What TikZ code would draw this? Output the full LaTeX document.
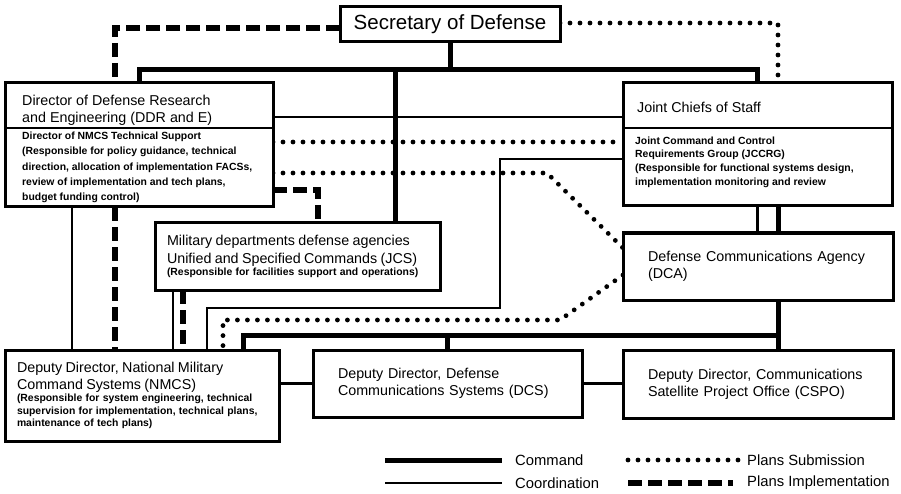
\documentclass[tikz,border=0pt]{standalone}
\usepackage{fontspec}
\setmainfont{Liberation Sans}
\usetikzlibrary{backgrounds}
\newcommand\DiagTitle{\fontsize{14.3}{17}\selectfont}
\newcommand\DiagSecFont{\fontsize{20.5}{24}\selectfont}
\newcommand\DiagSmallA{\fontsize{10.4}{15.2}\selectfont\bfseries}
\newcommand\DiagSmallB{\fontsize{10.4}{13.6}\selectfont\bfseries}
\newcommand\DiagLegend{\fontsize{14.8}{17}\selectfont}
\begin{document}
\begin{tikzpicture}[x=1pt,y=-1pt,
  box/.style={draw,line width=3pt,fill=white,inner sep=0pt,outer sep=0pt},
  txt/.style={anchor=west,align=left,inner sep=0pt},
  divider/.style={line width=1.8pt},
  cmd/.style={line width=5pt},
  crd/.style={line width=2.2pt},
  subm/.style={line width=4.8pt,line cap=round,dash pattern=on 0pt off 10pt},
  impl/.style={line width=5.5pt,dash pattern=on 14pt off 6pt},
  legend/.style={anchor=west,inner sep=0pt,font=\DiagLegend}]
\useasboundingbox (0,0) rectangle (901,494);

% ---------- boxes ----------
\node[box,anchor=north west,minimum width=220pt,minimum height=35pt,font=\DiagSecFont] (sec) at (340,7) {Secretary of Defense};

\node[box,anchor=north west,minimum width=268pt,minimum height=124pt] (ddr) at (5,83) {};
\node[txt,font=\DiagTitle] (ddrt) at (22,110) {Director of Defense Research\\and Engineering (DDR and E)};
\node[txt,font=\DiagSmallA] (ddrb) at (22,167.5) {Director of NMCS Technical Support\\(Responsible for policy guidance, technical\\direction, allocation of implementation FACSs,\\review of implementation and tech plans,\\budget funding control)};
\coordinate (ddrdiv) at (0,128);
\draw[divider] (ddr.west |- ddrdiv) -- (ddr.east |- ddrdiv);

\node[box,anchor=north west,minimum width=269pt,minimum height=123pt] (jcs) at (623,83) {};
\node[txt,font=\DiagTitle] (jcst) at (637,107) {Joint Chiefs of Staff};
\node[txt,font=\DiagSmallB] (jcsb) at (635,162) {Joint Command and Control\\Requirements Group (JCCRG)\\(Responsible for functional systems design,\\implementation monitoring and review};
\draw[divider] (jcs.west |- ddrdiv) -- (jcs.east |- ddrdiv);

\node[box,anchor=north west,minimum width=285pt,minimum height=67pt,text width=261pt,inner xsep=12pt,align=left] (mil) at (155,223)
 {\fontsize{10.4}{15}\selectfont\DiagTitle Military departments defense agencies\\[1pt]Unified and Specified Commands (JCS)\\[0pt]{\DiagSmallA (Responsible for facilities support and operations)}};

\node[box,anchor=north west,minimum width=270pt,minimum height=67pt,text width=220pt,inner xsep=25pt,align=left,font=\DiagTitle] (dca) at (623,233)
 {Defense Communications Agency\\(DCA)};

\node[box,anchor=north west,minimum width=274pt,minimum height=91pt,text width=250pt,inner xsep=12pt,align=left] (nmcs) at (5,350)
 {\DiagTitle Deputy Director, National Military\\Command Systems (NMCS)\\[-2pt]{\DiagSmallB (Responsible for system engineering, technical\\supervision for implementation, technical plans,\\maintenance of tech plans)}};

\node[box,anchor=north west,minimum width=269pt,minimum height=67pt,text width=219pt,inner xsep=25pt,align=left,font=\DiagTitle] (dcs) at (313,350)
 {Deputy Director, Defense\\Communications Systems (DCS)};

\node[box,anchor=north west,minimum width=270pt,minimum height=68pt,text width=220pt,inner xsep=25pt,align=left,font=\DiagTitle] (cspo) at (623,350)
 {Deputy Director, Communications\\Satellite Project Office (CSPO)};

% ---------- connectors ----------
\begin{scope}[on background layer]
% command
\coordinate (cbar) at (0,70);
\coordinate (m1) at (395,70);
\draw[cmd] (sec.south) -- (sec.south |- cbar);
\draw[cmd] (ddr.north) -- (ddr.north |- cbar) -- (jcs.north |- cbar) -- (jcs.north);
\draw[cmd] (m1) -- (m1 |- mil.north);
\coordinate (cb1) at (243,335);
\coordinate (cb2) at (778,335);
\draw[cmd] (jcs.south -| cb2) -- (dca.north -| cb2);
\draw[cmd] (dca.south -| cb2) -- (cspo.north -| cb2);
\draw[cmd] (nmcs.north -| cb1) -- (cb1) -- (cb2);
\draw[cmd] (dcs.north |- cb1) -- (dcs.north);
% coordination
\coordinate (c117) at (0,117);
\draw[crd] (ddr.east |- c117) -- (jcs.west |- c117);
\draw[crd] (jcs.south) -- (jcs.south |- dca.north);
\coordinate (xa) at (72,0);
\draw[crd] (ddr.south -| xa) -- (nmcs.north -| xa);
\coordinate (xb) at (173,0);
\draw[crd] (mil.south -| xb) -- (nmcs.north -| xb);
\coordinate (cc1) at (207,308);
\coordinate (cc2) at (500,159);
\draw[crd] (nmcs.north -| cc1) -- (cc1) -| (cc2) -- (jcs.west |- cc2);
\draw[crd] (dcs.west) -- (dcs.west -| nmcs.east);
\draw[crd] (dcs.east) -- (dcs.east -| cspo.west);
% plans implementation
\coordinate (d1) at (115,28);
\draw[impl] (sec.west |- d1) -- (d1) -- (d1 |- ddr.north);
\draw[impl] (d1 |- ddr.south) -- (d1 |- nmcs.north);
\coordinate (d2) at (318,190);
\draw[impl] (ddr.east |- d2) -- (d2) -- (d2 |- mil.north);
\coordinate (xc) at (183,0);
\draw[impl] (mil.south -| xc) -- (nmcs.north -| xc);
% plans submission
\coordinate (p1) at (778,23);
\draw[subm] (sec.east |- p1) -- (p1) -- (p1 |- jcs.north);
\coordinate (p2) at (0,142);
\draw[subm] (ddr.east |- p2) -- (jcs.west |- p2);
\coordinate (p3) at (547,173);
\coordinate (p4) at (0,248);
\draw[subm] (ddr.east |- p3) -- (p3) -- (dca.west |- p4);
\coordinate (p5) at (0,275);
\coordinate (p6) at (560,320);
\coordinate (p7) at (223,320);
\draw[subm] (dca.west |- p5) -- (p6) -- (p7) -- (p7 |- nmcs.north);
\end{scope}

% ---------- legend ----------
\node[legend] (lcmd) at (515,460) {Command};
\node[legend] (lcrd) at (515,483) {Coordination};
\node[legend] (lsub) at (747,460) {Plans Submission};
\node[legend] (limp) at (747,483) {Plans Implementation};
\coordinate (lc1) at (385,460);
\coordinate (lo1) at (385,483);
\coordinate (ls1) at (628,460);
\coordinate (li1) at (628,483);
\draw[cmd] (lc1) -- ([xshift=-13pt]lcmd.west);
\draw[crd] (lo1) -- ([xshift=-13pt]lcrd.west);
\draw[subm] (ls1) -- ([xshift=-8.5pt]lsub.west);
\draw[impl] (li1) -- ([xshift=-14pt]limp.west);
\end{tikzpicture}
\end{document}
